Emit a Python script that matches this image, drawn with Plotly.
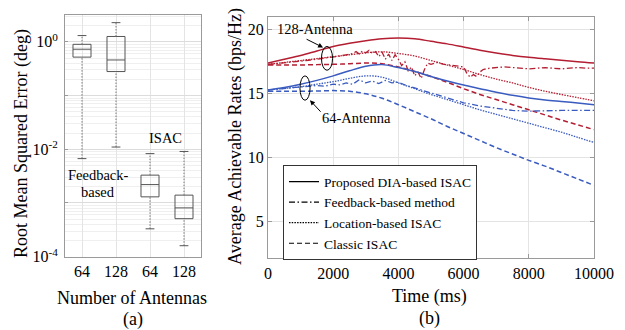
import plotly.graph_objects as go

# ---------------- Panel (a): RMSE box plots ----------------
ant_labels = ["64", "128", "64", "128"]
box_pos = [1, 2, 3, 4]
q1 = [0.52, 0.28, 0.0013, 0.00051]
med = [0.73, 0.46, 0.0022, 0.00081]
q3 = [0.90, 1.26, 0.0033, 0.0014]
w_lo = [0.0067, 0.011, 0.00033, 0.00016]
w_hi = [1.31, 2.28, 0.0083, 0.0091]

# ---------------- Panel (b): achievable rates ----------------
t_s = list(range(0, 10001, 500))
red_prop = [17.40, 17.70, 18.00, 18.35, 18.70, 18.95, 19.15, 19.30, 19.35, 19.30, 19.10,
            18.90, 18.65, 18.40, 18.18, 18.00, 17.85, 17.73, 17.62, 17.50, 17.40]
blue_prop = [15.30, 15.50, 15.75, 16.05, 16.40, 16.80, 17.15, 17.28, 17.05, 16.75, 16.35,
             16.00, 15.68, 15.40, 15.12, 14.88, 14.68, 14.52, 14.40, 14.28, 14.15]
red_loc = [17.30, 17.45, 17.60, 17.75, 17.90, 18.05, 18.20, 18.28, 18.15, 17.95, 17.60,
           17.25, 16.90, 16.50, 16.15, 15.85, 15.50, 15.20, 14.95, 14.70, 14.45]
blue_loc = [15.30, 15.42, 15.55, 15.75, 15.95, 16.20, 16.40, 16.30, 15.85, 15.40, 14.95,
            14.55, 14.15, 13.75, 13.40, 13.05, 12.70, 12.35, 12.00, 11.60, 11.20]
red_cls = [17.25, 17.25, 17.25, 17.28, 17.30, 17.35, 17.40, 17.35, 17.10, 16.75, 16.35,
           15.90, 15.40, 14.95, 14.55, 14.15, 13.75, 13.35, 12.95, 12.58, 12.20]
blue_cls = [15.20, 15.20, 15.20, 15.22, 15.25, 15.20, 15.00, 14.65, 14.15, 13.60, 13.05,
            12.45, 11.90, 11.35, 10.80, 10.30, 9.80, 9.35, 8.85, 8.35, 7.85]

t_red_fb = [0, 250, 500, 750, 1000, 1250, 1500, 1750, 2000, 2200, 2400, 2600, 2700, 2800, 2900,
            3000, 3100, 3200, 3300, 3400, 3500, 3600, 3700, 3800, 3900, 4000, 4100, 4200, 4300,
            4400, 4500, 4600, 4700, 4800, 4900, 5000, 5200, 5400, 5600, 5800, 6000, 6100, 6200,
            6300, 6400, 6500, 6600, 6800, 7000, 7250, 7500, 7750, 8000, 8250, 8500, 8750, 9000,
            9250, 9500, 9750, 10000]
red_fb = [17.30, 17.35, 17.40, 17.48, 17.55, 17.62, 17.70, 17.78, 17.85, 17.95, 18.05, 18.15,
          18.30, 18.10, 18.35, 18.20, 18.40, 18.15, 18.30, 17.90, 18.25, 17.70, 18.10, 17.60,
          18.05, 17.70, 17.20, 17.50, 16.80, 17.10, 16.40, 16.70, 16.20, 16.90, 17.40, 17.30,
          17.45, 17.30, 17.25, 17.20, 17.10, 16.60, 16.30, 16.50, 16.35, 16.70, 16.90, 17.00,
          17.05, 17.10, 17.05, 17.00, 16.95, 17.00, 17.05, 17.00, 16.95, 17.00, 17.05, 17.00, 17.00]
t_blue_fb = [0, 250, 500, 750, 1000, 1250, 1500, 1750, 2000, 2200, 2400, 2600, 2800, 3000, 3200,
             3400, 3600, 3800, 4000, 4250, 4500, 4750, 5000, 5250, 5500, 5750, 6000, 6500, 7000,
             7500, 8000, 8500, 9000, 9500, 10000]
blue_fb = [15.30, 15.35, 15.40, 15.45, 15.50, 15.55, 15.65, 15.60, 15.75, 15.70, 15.85, 15.75,
           16.10, 15.85, 16.00, 15.80, 16.05, 15.85, 15.90, 15.65, 15.45, 15.25, 15.05, 14.85,
           14.65, 14.45, 14.30, 14.05, 13.85, 13.70, 13.65, 13.70, 13.70, 13.70, 13.70]

time_ticks = [0, 2000, 4000, 6000, 8000, 10000]
time_tick_text = ["0", "2000", "4000", "6000", "8000", "10000"]
rate_ticks = [5, 10, 15, 20]

legend_names = ["Proposed DIA-based ISAC", "Feedback-based method", "Location-based ISAC", "Classic ISAC"]

RED = "#b41e32"
BLUE = "#3a5bbf"
FONT = "Liberation Serif"
D_SOLID = "solid"
D_DASHDOT = "6px,2.5px,1.5px,2.5px"
D_DOT = "1.5px,1.2px"
D_DASH = "5px,3px"

fig = go.Figure()

# ----- boxes -----
BOXC = "#555555"
for i in range(4):
    fig.add_trace(go.Box(x=[box_pos[i]], q1=[q1[i]], median=[med[i]], q3=[q3[i]],
                         lowerfence=[q1[i]], upperfence=[q3[i]], width=0.53, whiskerwidth=0,
                         fillcolor="rgba(255,255,255,0)", line=dict(color=BOXC, width=1),
                         xaxis="x", yaxis="y", showlegend=False, hoverinfo="skip",
                         boxpoints=False))
    fig.add_trace(go.Scatter(x=[box_pos[i], box_pos[i]], y=[q3[i], w_hi[i]], mode="lines",
                             line=dict(color="#777777", width=1, dash="1.5px,1.5px"),
                             xaxis="x", yaxis="y", showlegend=False, hoverinfo="skip"))
    fig.add_trace(go.Scatter(x=[box_pos[i], box_pos[i]], y=[w_lo[i], q1[i]], mode="lines",
                             line=dict(color="#777777", width=1, dash="1.5px,1.5px"),
                             xaxis="x", yaxis="y", showlegend=False, hoverinfo="skip"))
    for yv in (w_hi[i], w_lo[i]):
        fig.add_trace(go.Scatter(x=[box_pos[i] - 0.13, box_pos[i] + 0.13], y=[yv, yv], mode="lines",
                                 line=dict(color=BOXC, width=1), xaxis="x", yaxis="y",
                                 showlegend=False, hoverinfo="skip"))

# ----- rate curves -----
def add_line(x, y, color, dash, width=1.5, shape="spline"):
    fig.add_trace(go.Scatter(x=x, y=y, mode="lines", line=dict(color=color, width=width, dash=dash, shape=shape),
                             xaxis="x2", yaxis="y2", showlegend=False, hoverinfo="skip"))

add_line(t_s, blue_cls, BLUE, D_DASH)
add_line(t_s, red_cls, RED, D_DASH)
add_line(t_s, blue_loc, BLUE, D_DOT, 1.3)
add_line(t_s, red_loc, RED, D_DOT, 1.3)
add_line(t_blue_fb, blue_fb, BLUE, D_DASHDOT, 1.3, "linear")
add_line(t_red_fb, red_fb, RED, D_DASHDOT, 1.3, "linear")
add_line(t_s, blue_prop, BLUE, D_SOLID)
add_line(t_s, red_prop, RED, D_SOLID)

for name, dash in zip(legend_names, [D_SOLID, D_DASHDOT, D_DOT, D_DASH]):
    fig.add_trace(go.Scatter(x=[None], y=[None], mode="lines", name=name,
                             line=dict(color="black", width=1.2, dash=dash),
                             xaxis="x2", yaxis="y2", showlegend=True))

# ----- axes -----
decades = [1e-4, 1e-3, 1e-2, 1e-1, 1]
dec_text = ["10<sup>-4</sup>", "", "10<sup>-2</sup>", "", "10<sup>0</sup>"]
minor_vals = [m * d for d in [1e-4, 1e-3, 1e-2, 1e-1, 1] for m in range(2, 10) if m * d <= 3.2]

FRAME = "#9a9a9a"
GRID = "#e4e4e4"
tickfont = dict(family=FONT, size=16, color="black")

fig.update_layout(
    width=625, height=330, margin=dict(l=0, r=0, t=0, b=0),
    paper_bgcolor="white", plot_bgcolor="white",
    font=dict(family=FONT, color="black"),
    xaxis=dict(domain=[0.104, 0.3216], range=[0.5, 4.5], tickvals=box_pos, ticktext=ant_labels,
               showgrid=True, gridcolor=GRID, zeroline=False, showline=True, linecolor=FRAME,
               mirror=True, ticks="", tickfont=tickfont, anchor="y", automargin=False),
    yaxis=dict(domain=[0.2222, 0.9545], type="log", range=[-4, 0.5], tickvals=decades,
               ticktext=dec_text, showgrid=True, gridcolor="#dcdcdc", zeroline=False,
               showline=True, linecolor=FRAME, mirror=True, ticks="inside", ticklen=3,
               tickcolor=FRAME, tickfont=tickfont, anchor="x", automargin=False,
               ticklabelstandoff=3,
               minor=dict(tickvals=minor_vals, showgrid=True, gridcolor="#efefef", ticks="")),
    xaxis2=dict(domain=[0.4288, 0.9504], range=[0, 10000], tickvals=time_ticks, ticktext=time_tick_text,
                showgrid=True, gridcolor=GRID, zeroline=False, showline=True, linecolor=FRAME,
                mirror="ticks", ticks="inside", ticklen=4, tickcolor=FRAME, tickfont=tickfont,
                anchor="y2", automargin=False),
    yaxis2=dict(domain=[0.2172, 0.9485], range=[2.15, 21], tickvals=rate_ticks,
                showgrid=True, gridcolor=GRID, zeroline=False, showline=True, linecolor=FRAME,
                mirror="ticks", ticks="inside", ticklen=4, tickcolor=FRAME, tickfont=tickfont,
                anchor="x2", automargin=False),
    legend=dict(x=0.4528, y=0.499, xanchor="left", yanchor="top", bgcolor="white",
                bordercolor="#333333", borderwidth=1, font=dict(family=FONT, size=13.5, color="black"),
                tracegroupgap=0, itemwidth=30),
)

fig.add_shape(type="circle", xref="x2", yref="y2", x0=1640, x1=1980, y0=16.84, y1=18.70,
              line=dict(color="black", width=1))
fig.add_shape(type="circle", xref="x2", yref="y2", x0=980, x1=1290, y0=14.50, y1=16.40,
              line=dict(color="black", width=1))

ann_font = dict(family=FONT, size=14.5, color="black")
title_font = dict(family=FONT, size=18, color="black")
anns = [
    dict(text="128-Antenna", x=315 / 625, y=1 - 29 / 330),
    dict(text="64-Antenna", x=356 / 625, y=1 - 118 / 330),
    dict(text="ISAC", x=165 / 625, y=1 - 138 / 330),
    dict(text="Feedback-", x=98 / 625, y=1 - 175 / 330),
    dict(text="based", x=98 / 625, y=1 - 192 / 330),
]
for a in anns:
    fig.add_annotation(xref="paper", yref="paper", showarrow=False, font=ann_font,
                       xanchor="center", yanchor="middle", **a)

titles = [
    dict(text="Number of Antennas", x=132 / 625, y=1 - 298 / 330, textangle=0),
    dict(text="(a)", x=133 / 625, y=1 - 319 / 330, textangle=0),
    dict(text="Time (ms)", x=430 / 625, y=1 - 296 / 330, textangle=0),
    dict(text="(b)", x=430 / 625, y=1 - 318 / 330, textangle=0),
    dict(text="Root Mean Squared Error (deg)", x=22 / 625, y=1 - 144 / 330, textangle=-90),
    dict(text="Average Achievable Rates (bps/Hz)", x=235 / 625, y=1 - 137 / 330, textangle=-90),
]
for a in titles:
    fig.add_annotation(xref="paper", yref="paper", showarrow=False, font=title_font,
                       xanchor="center", yanchor="middle", **a)

fig.add_annotation(xref="x2", yref="y2", x=1690, y=18.62, ax=-18, ay=-9, text="",
                   showarrow=True, arrowhead=2, arrowsize=1, arrowwidth=1, arrowcolor="black")
fig.add_annotation(xref="x2", yref="y2", x=1288, y=14.50, ax=12, ay=13, text="",
                   showarrow=True, arrowhead=2, arrowsize=1, arrowwidth=1, arrowcolor="black")

fig.write_html("out.html")
